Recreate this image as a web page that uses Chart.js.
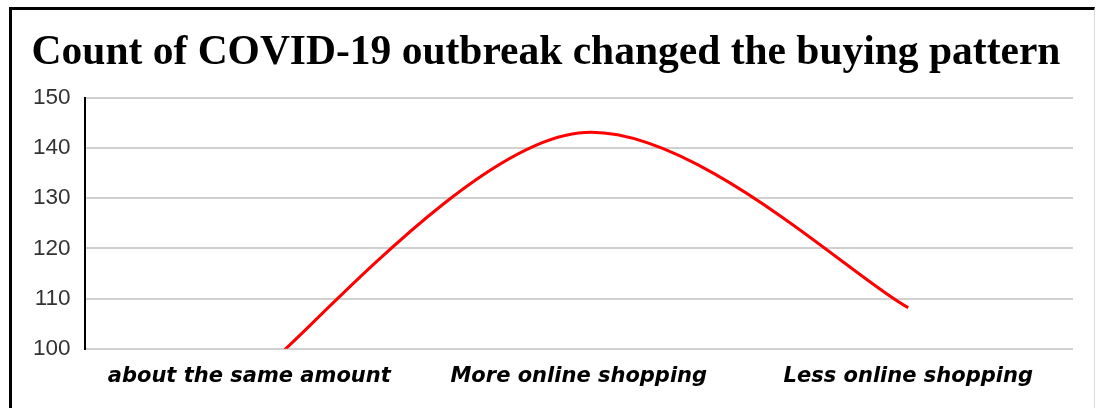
<!DOCTYPE html>
<html>
<head>
<meta charset="utf-8">
<script src="https://cdn.jsdelivr.net/npm/chart.js@4.4.0/dist/chart.umd.min.js"></script>
<style>
  html, body { margin: 0; padding: 0; background: #fff; }
  body { width: 1097px; height: 408px; overflow: hidden; position: relative; }
  .frame {
    position: absolute; left: 9px; top: 7px; width: 1082px; height: 420px;
    border-left: 3px solid #000; border-top: 3px solid #000; border-right: 1px solid #d8d8d8;
  }
  #wrap { position: absolute; left: 0; top: 0; width: 1097px; height: 408px; }
</style>
</head>
<body>
<div class="frame"></div>
<div id="wrap"><canvas id="chart"></canvas></div>
<script>
// buying pattern counts
const categories = ["about the same amount", "More online shopping", "Less online shopping"];
const counts = [93.5, 143, 108.2];
const yMin = 100;
const yMax = 150;
const yStep = 10;

// spreadsheet-style smoothing: each control point sits 1/6 of the
// neighbour-to-neighbour vector away from its point
const smoothLine = {
  id: "smoothLine",
  beforeDatasetDraw(chart, args) {
    const meta = args.meta;
    const pts = meta.data;
    for (let i = 0; i < pts.length; i++) {
      const p = pts[i];
      const prev = pts[i - 1] || p;
      const next = pts[i + 1] || p;
      const dx = (next.x - prev.x) / 6;
      const dy = (next.y - prev.y) / 6;
      p.cp1x = p.x - dx;
      p.cp1y = p.y - dy;
      p.cp2x = p.x + dx;
      p.cp2y = p.y + dy;
    }
    meta.dataset._pointsUpdated = true;
    meta.dataset._path = undefined;
  }
};

const ctx = document.getElementById("chart").getContext("2d");
new Chart(ctx, {
  type: "line",
  data: {
    labels: categories,
    datasets: [{
      label: "Count",
      data: counts,
      borderColor: "#ff0000",
      borderWidth: 3,
      pointRadius: 0,
      tension: 0.4,
      fill: false
    }]
  },
  plugins: [smoothLine],
  options: {
    responsive: true,
    maintainAspectRatio: false,
    animation: false,
    layout: { padding: { left: 19, right: 24, top: 28, bottom: 12 } },
    plugins: {
      legend: { display: false },
      tooltip: { enabled: false },
      title: {
        display: true,
        text: "Count of COVID-19 outbreak changed the buying pattern",
        color: "#000",
        font: { family: "'Liberation Serif', 'Times New Roman', serif", size: 41.5, weight: "bold" },
        padding: { top: 0, bottom: 20 }
      }
    },
    scales: {
      x: {
        offset: true,
        grid: { display: false },
        border: { display: false },
        ticks: {
          color: "#000",
          padding: 7,
          font: { family: "'DejaVu Sans', sans-serif", size: 21, weight: "bold", style: "italic" }
        }
      },
      y: {
        min: yMin,
        max: yMax,
        ticks: {
          stepSize: yStep,
          color: "#333",
          padding: 14,
          font: { family: "'Liberation Sans', Arial, sans-serif", size: 22.5 }
        },
        grid: { color: "#d0d0d0", lineWidth: 2, drawTicks: false },
        border: { display: true, color: "#000", width: 2 }
      }
    }
  }
});
</script>
</body>
</html>
